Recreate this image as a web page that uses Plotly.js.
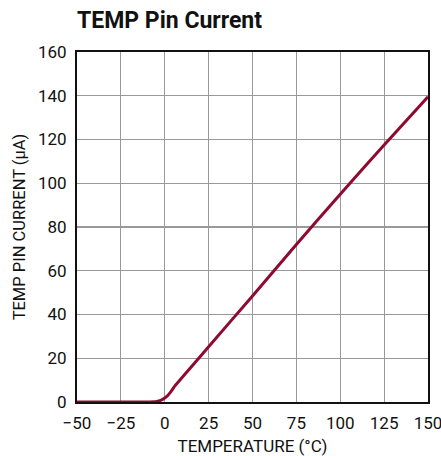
<!DOCTYPE html>
<html><head><meta charset="utf-8">
<script src="https://cdn.plot.ly/plotly-3.0.1.min.js"></script>
<style>html,body{margin:0;padding:0;background:#fff}#c{width:441px;height:456px}</style>
</head><body><div id="c"></div>
<script>
var temperature = [-50, -25, -10, -6, -4, -2, 0, 2, 4, 6, 10, 25, 50, 75, 100, 125, 150];
var currentUA  = [0, 0, 0, 0.1, 0.4, 0.9, 1.8, 3.2, 5.3, 7.6, 11.3, 25.3, 48.5, 72, 95, 117.5, 139.5];
var xTicks = [-50, -25, 0, 25, 50, 75, 100, 125, 150];
var xTickText = ['\u221250', '\u221225', '0', '25', '50', '75', '100', '125', '150'];
var yTicks = [0, 20, 40, 60, 80, 100, 120, 140, 160];

var fam = 'Roboto, "Liberation Sans", sans-serif';
Plotly.newPlot('c', [{
  x: temperature, y: currentUA, type: 'scatter', mode: 'lines',
  line: {color: '#8e0b2f', width: 3, shape: 'spline', smoothing: 0.6},
  hoverinfo: 'skip'
}], {
  width: 441, height: 456,
  margin: {l: 77, r: 13, t: 52, b: 54},
  paper_bgcolor: '#fff', plot_bgcolor: '#fff',
  showlegend: false,
  title: {text: '<b>TEMP Pin Current</b>', x: 77/441, xanchor: 'left', y: 1 - 20/456, yanchor: 'middle',
          font: {family: fam, size: 23, color: '#111'}},
  xaxis: {range: [-50.001, 150.001], tickvals: xTicks, ticktext: xTickText,
          ticks: 'outside', ticklen: 5, tickcolor: 'rgba(0,0,0,0)', ticklabeloverflow: 'allow',
          showgrid: true, gridcolor: '#999', gridwidth: 1.2, zeroline: false,
          showline: true, linecolor: '#111', linewidth: 2, mirror: true,
          tickfont: {family: fam, size: 17, color: '#111'},
          title: {text: 'TEMPERATURE (°C)', font: {family: fam, size: 17, color: '#111'}, standoff: 9}},
  yaxis: {range: [0, 160.001], tickvals: yTicks,
          ticks: 'outside', ticklen: 5, tickcolor: 'rgba(0,0,0,0)', ticklabeloverflow: 'allow',
          showgrid: true, gridcolor: '#999', gridwidth: 1.2, zeroline: false,
          showline: true, linecolor: '#111', linewidth: 2, mirror: true,
          tickfont: {family: fam, size: 17, color: '#111'},
          title: {text: 'TEMP PIN CURRENT (µA)', font: {family: fam, size: 16.5, color: '#111'}, standoff: 8}}
}, {staticPlot: true, displayModeBar: false});
</script></body></html>
